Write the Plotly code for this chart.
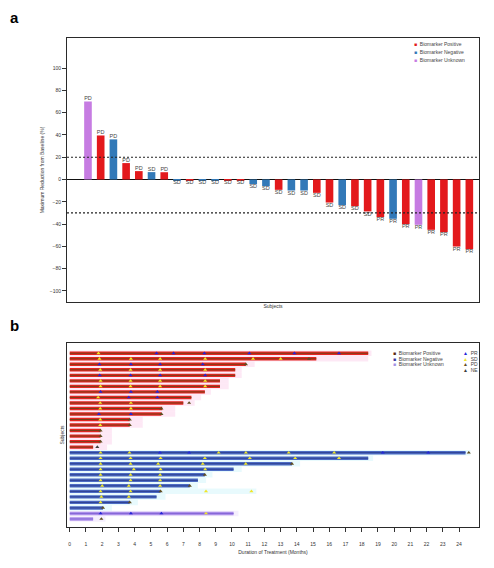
import plotly.graph_objects as go

# ---------------- Panel a: waterfall ----------------
wf_values = [70, 39.5, 36, 14.7, 7.5, 6.6, 6.5,
             -0.5, -0.5, -0.5, -0.5, -0.5, -0.5,
             -4.2, -6, -9.3, -9.9, -9.9, -12, -20.7, -23.1, -24, -28.7,
             -33.8, -35.3, -40.1, -40.7, -45.2, -47.3, -60.2, -62.6]
wf_groups = ["U", "P", "N", "P", "P", "N", "P",
             "N", "P", "N", "N", "P", "P",
             "N", "N", "P", "N", "N", "P", "P", "N", "P", "P",
             "P", "N", "P", "U", "P", "P", "P", "P"]
wf_response = ["PD", "PD", "PD", "PD", "PD", "SD", "PD",
               "SD", "SD", "SD", "SD", "SD", "SD",
               "SD", "SD", "SD", "SD", "SD", "SD", "SD", "SD", "SD", "SD",
               "PR", "PR", "PR", "PR", "PR", "PR", "PR", "PR"]
wf_yticks = [-100, -80, -60, -40, -20, 0, 20, 40, 60, 80, 100]
thresholds = [20, -30]

group_names = {"P": "Biomarker Positive", "N": "Biomarker Negative", "U": "Biomarker Unknown"}
group_order = ["P", "N", "U"]
response_names = ["PR", "SD", "PD", "NE"]

# ---------------- Panel b: swimmer ----------------
sw_rows = list(range(1, 32))
sw_groups = ["P"] * 18 + ["N"] * 11 + ["U"] * 2
sw_duration = [18.4, 15.2, 10.86, 10.2, 10.2, 9.26, 9.26, 8.33, 7.5, 7.0, 5.7, 5.65,
               3.7, 3.7, 1.9, 1.9, 1.9, 1.44,
               24.4, 18.4, 13.7, 10.1, 8.33, 7.9, 7.4, 5.6, 5.35, 3.7, 2.05,
               10.1, 1.44]
sw_followup = [18.6, 18.4, 11.4, 10.6, 10.6, 9.8, 9.8, 8.7, 8.1, 7.7, 6.5, 6.5,
               4.5, 4.5, 2.6, 2.6, 2.6, 2.3,
               24.7, 18.7, 14.2, 10.6, 8.8, 8.4, 7.9, 11.5, 5.9, 4.2, 2.6,
               10.4, 2.2]
sw_xticks = list(range(0, 25))

pr_rows = [1, 1, 1, 1, 1, 1,
           3, 3, 3, 3,
           5, 5, 5, 5,
           8, 8, 8,
           9, 9,
           12, 12,
           19, 19, 19, 19,
           30, 30, 30]
pr_times = [5.35, 6.4, 8.3, 11.07, 13.85, 16.6,
            1.83, 3.77, 5.57, 8.2,
            1.85, 3.75, 5.57, 8.35,
            1.9, 3.77, 5.4,
            3.64, 5.4,
            1.8, 3.77,
            5.56, 7.36, 19.3, 22.1,
            1.9, 3.77, 5.65]
sd_rows = [1,
           2, 2, 2, 2, 2, 2,
           4, 4, 4, 4,
           6, 6, 6, 6,
           7, 7, 7, 7,
           9,
           10, 10,
           11, 11,
           13, 14,
           19, 19, 19, 19, 19, 19,
           20, 20, 20, 20, 20, 20, 20,
           21, 21, 21, 21, 21,
           22, 22, 22, 22,
           23, 23, 23,
           24, 24, 24,
           25, 25, 25,
           26, 26, 26, 26,
           27, 27,
           28,
           30]
sd_times = [1.77,
            1.83, 3.77, 5.57, 8.35, 11.3, 13.0,
            1.88, 3.75, 5.57, 8.35,
            1.9, 3.75, 5.57, 8.35,
            1.9, 3.75, 5.57, 8.35,
            1.75,
            1.88, 3.77,
            1.88, 3.77,
            1.88, 1.88,
            1.9, 3.68, 9.18, 10.86, 13.5, 16.3,
            1.9, 3.75, 5.6, 8.33, 11.1, 13.9, 16.6,
            1.9, 3.75, 5.45, 8.2, 10.85,
            1.9, 3.95, 5.6, 8.35,
            1.9, 3.75, 5.57,
            1.9, 3.75, 5.57,
            2.0, 3.64, 5.57,
            1.9, 3.75, 8.4, 11.2,
            1.95, 3.64,
            1.9,
            8.4]
pd_rows = [2, 3, 10, 11, 12, 13, 14, 15, 16, 17, 19, 21, 23, 25, 26, 28, 29, 31]
pd_times = [14.75, 10.86, 7.36, 5.65, 5.65, 3.7, 3.7, 1.9, 1.9, 1.9, 24.6, 13.7, 8.33, 7.4, 5.6, 3.7, 2.05, 1.95]
ne_rows = [18]
ne_times = [1.7]

# ---------------- styles ----------------
FONT = "Liberation Sans"
PAGE_OFF = 8          # the page body margin shifts the figure by 8 px
W, H = 494 - 2 * PAGE_OFF, 568 - 2 * PAGE_OFF
wf_colors = {"P": "#e3191c", "N": "#3279b8", "U": "#c67ce2"}
sw_bar_colors = {"P": "#e52521", "N": "#4d6cc4", "U": "#ad8fea"}
sw_line_colors = {"P": "#74401a", "N": "#2c3f90", "U": "#8466d6"}
sw_shade_colors = {"P": "rgba(250,190,225,0.35)", "N": "rgba(190,240,250,0.35)", "U": "rgba(225,210,250,0.35)"}
resp_colors = {"PR": "#2323d8", "SD": "#f0e62a", "PD": "#5f4d1f", "NE": "#3c3c3c"}
sw_legend_sq = {"P": "#5a2a10", "N": "#3a3aa0", "U": "#a391e4"}


def px(x):
    return (x - PAGE_OFF) / W


def py(y):
    return 1 - (y - PAGE_OFF) / H


fig = go.Figure()

# ---- waterfall bars
for g in group_order:
    xs = [i for i, gg in enumerate(wf_groups) if gg == g]
    ys = [wf_values[i] for i in xs]
    fig.add_trace(go.Bar(x=xs, y=ys, width=0.6, marker=dict(color=wf_colors[g], line=dict(width=0)),
                         name=group_names[g], showlegend=False, xaxis="x", yaxis="y"))

fig.add_trace(go.Scatter(
    x=list(range(len(wf_values))), y=wf_values, mode="text", text=wf_response,
    textposition=["top center" if v > 0 else "bottom center" for v in wf_values],
    textfont=dict(size=5.5, color="#444", family=FONT), showlegend=False, xaxis="x", yaxis="y"))

for t in thresholds:
    fig.add_shape(type="line", xref="x domain", yref="y", x0=0, x1=1, y0=t, y1=t,
                  line=dict(color="#222", width=1.1, dash="2px,2px"))

# ---- swimmer
for g in group_order:
    idx = [i for i, gg in enumerate(sw_groups) if gg == g]
    fig.add_trace(go.Bar(orientation="h", y=[sw_rows[i] for i in idx], x=[sw_followup[i] for i in idx],
                         width=1.0, marker=dict(color=sw_shade_colors[g], line=dict(width=0)),
                         showlegend=False, xaxis="x2", yaxis="y2"))
for g in group_order:
    idx = [i for i, gg in enumerate(sw_groups) if gg == g]
    fig.add_trace(go.Bar(orientation="h", y=[sw_rows[i] for i in idx], x=[sw_duration[i] for i in idx],
                         width=0.62, marker=dict(color=sw_bar_colors[g], line=dict(width=0)),
                         name=group_names[g], showlegend=False, xaxis="x2", yaxis="y2"))
for g in group_order:
    idx = [i for i, gg in enumerate(sw_groups) if gg == g]
    lx, ly = [], []
    for i in idx:
        lx += [0, sw_duration[i], None]
        ly += [sw_rows[i], sw_rows[i], None]
    fig.add_trace(go.Scatter(x=lx, y=ly, mode="lines", line=dict(color=sw_line_colors[g], width=1),
                             showlegend=False, hoverinfo="skip", xaxis="x2", yaxis="y2"))

for name, rr, tt in [("PR", pr_rows, pr_times), ("SD", sd_rows, sd_times),
                     ("PD", pd_rows, pd_times), ("NE", ne_rows, ne_times)]:
    fig.add_trace(go.Scatter(x=tt, y=rr, mode="markers", name=name,
                             marker=dict(symbol="triangle-up", size=3.6, color=resp_colors[name], line=dict(width=0)),
                             showlegend=False, xaxis="x2", yaxis="y2"))

# ---- legends (drawn as text keys)
ann = []
for g, yy in zip(group_order, [44.3, 52.0, 59.5]):
    ann.append(dict(x=px(411.5), y=py(yy), xref="paper", yref="paper", xanchor="left", yanchor="middle",
                    showarrow=False, font=dict(size=5, color="#444", family=FONT),
                    text=f'<span style="color:{wf_colors[g]}">■</span>  {group_names[g]}'))
for g, yy in zip(group_order, [353.3, 358.8, 364.3]):
    ann.append(dict(x=px(390.5), y=py(yy), xref="paper", yref="paper", xanchor="left", yanchor="middle",
                    showarrow=False, font=dict(size=5, color="#444", family=FONT),
                    text=f'<span style="color:{sw_legend_sq[g]}">■</span>  {group_names[g]}'))
for r, yy in zip(response_names, [353.3, 358.8, 364.3, 369.8]):
    ann.append(dict(x=px(461), y=py(yy), xref="paper", yref="paper", xanchor="left", yanchor="middle",
                    showarrow=False, font=dict(size=5, color="#444", family=FONT),
                    text=f'<span style="color:{resp_colors[r]}">▲</span>  {r}'))
ann.append(dict(x=px(8), y=py(18), xref="paper", yref="paper", xanchor="left", yanchor="middle",
                showarrow=False, text="<b>a</b>", font=dict(size=15, color="#000", family=FONT)))
ann.append(dict(x=px(8), y=py(325), xref="paper", yref="paper", xanchor="left", yanchor="middle",
                showarrow=False, text="<b>b</b>", font=dict(size=15, color="#000", family=FONT)))

axis_common = dict(showline=True, mirror=True, linecolor="#2a2a2a", linewidth=1, showgrid=False,
                   tickfont=dict(size=5, color="#333", family=FONT))

fig.update_layout(
    width=W, height=H, autosize=False,
    margin=dict(l=0, r=0, t=0, b=0),
    paper_bgcolor="white", plot_bgcolor="white",
    barmode="overlay", showlegend=False,
    font=dict(family=FONT, size=5, color="#333"),
    annotations=ann,
    xaxis=dict(domain=[px(67), px(479)], anchor="y", range=[-1.65, 30.76], showticklabels=False, ticks="",
               zeroline=False, title=dict(text="Subjects", standoff=2, font=dict(size=5, color="#333")),
               **axis_common),
    yaxis=dict(domain=[py(302), py(38)], anchor="x", range=[-110, 127], tickvals=wf_yticks,
               ticks="outside", ticklen=4, tickwidth=0.8, tickcolor="#333",
               zeroline=True, zerolinecolor="#111", zerolinewidth=1,
               title=dict(text="Maximum Reduction from Baseline (%)", standoff=4, font=dict(size=5, color="#333")),
               **axis_common),
    xaxis2=dict(domain=[px(67), px(479)], anchor="y2", range=[-0.17, 25.23], tickvals=sw_xticks,
                ticks="outside", ticklen=4, tickwidth=0.8, tickcolor="#333", ticklabelstandoff=8,
                zeroline=False,
                title=dict(text="Duration of Treatment (Months)", standoff=4, font=dict(size=5, color="#333")),
                **axis_common),
    yaxis2=dict(domain=[py(526.7), py(343.3)], anchor="x2", range=[32.4, -0.8], showticklabels=False, ticks="",
                zeroline=False, title=dict(text="Subjects", standoff=1, font=dict(size=5, color="#333")),
                **axis_common),
)

fig.write_html("out.html")
